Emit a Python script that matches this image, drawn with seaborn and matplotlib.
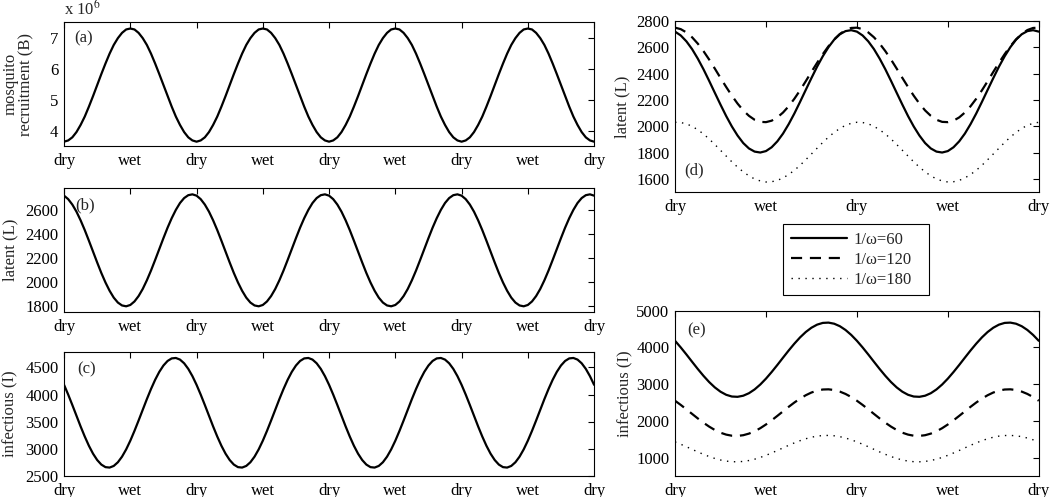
import numpy as np
import matplotlib
matplotlib.use('Agg')
import matplotlib.pyplot as plt
import seaborn as sns

# values, one sample every 1/16 of a dry-wet interval
season_labels_long = ['dry', 'wet', 'dry', 'wet', 'dry', 'wet', 'dry', 'wet', 'dry']
season_labels_short = ['dry', 'wet', 'dry', 'wet', 'dry']

recruit_B = [  # x 10^6
    3.64, 3.68, 3.78, 3.95, 4.18, 4.45, 4.77, 5.11, 5.47, 5.82, 6.16, 6.48, 6.76, 6.98, 7.15, 7.26,
    7.29, 7.26, 7.15, 6.98, 6.76, 6.48, 6.16, 5.82, 5.47, 5.11, 4.77, 4.45, 4.18, 3.95, 3.78, 3.68,
    3.64, 3.68, 3.78, 3.95, 4.18, 4.45, 4.77, 5.11, 5.47, 5.82, 6.16, 6.48, 6.76, 6.98, 7.15, 7.26,
    7.29, 7.26, 7.15, 6.98, 6.76, 6.48, 6.16, 5.82, 5.47, 5.11, 4.77, 4.45, 4.18, 3.95, 3.78, 3.68,
    3.64, 3.68, 3.78, 3.95, 4.18, 4.45, 4.77, 5.11, 5.47, 5.82, 6.16, 6.48, 6.76, 6.98, 7.15, 7.26,
    7.29, 7.26, 7.15, 6.98, 6.76, 6.48, 6.16, 5.82, 5.47, 5.11, 4.77, 4.45, 4.18, 3.95, 3.78, 3.68,
    3.64, 3.68, 3.78, 3.95, 4.18, 4.45, 4.77, 5.11, 5.47, 5.82, 6.16, 6.48, 6.76, 6.98, 7.15, 7.26,
    7.29, 7.26, 7.15, 6.98, 6.76, 6.48, 6.16, 5.82, 5.47, 5.11, 4.77, 4.45, 4.18, 3.95, 3.78, 3.68,
    3.64]

latent_L = [
    2719, 2690, 2645, 2586, 2514, 2433, 2345, 2254, 2164, 2077, 1998, 1929, 1872, 1831, 1807, 1800,
    1811, 1840, 1885, 1944, 2016, 2097, 2185, 2276, 2366, 2453, 2532, 2601, 2658, 2699, 2723, 2730,
    2719, 2690, 2645, 2586, 2514, 2433, 2345, 2254, 2164, 2077, 1998, 1929, 1872, 1831, 1807, 1800,
    1811, 1840, 1885, 1944, 2016, 2097, 2185, 2276, 2366, 2453, 2532, 2601, 2658, 2699, 2723, 2730,
    2719, 2690, 2645, 2586, 2514, 2433, 2345, 2254, 2164, 2077, 1998, 1929, 1872, 1831, 1807, 1800,
    1811, 1840, 1885, 1944, 2016, 2097, 2185, 2276, 2366, 2453, 2532, 2601, 2658, 2699, 2723, 2730,
    2719, 2690, 2645, 2586, 2514, 2433, 2345, 2254, 2164, 2077, 1998, 1929, 1872, 1831, 1807, 1800,
    1811, 1840, 1885, 1944, 2016, 2097, 2185, 2276, 2366, 2453, 2532, 2601, 2658, 2699, 2723, 2730,
    2719]

infectious_I = [
    4180, 4000, 3808, 3609, 3413, 3227, 3057, 2911, 2794, 2710, 2663, 2655, 2685, 2753, 2856, 2990,
    3150, 3330, 3522, 3721, 3917, 4103, 4273, 4419, 4536, 4620, 4667, 4675, 4645, 4577, 4474, 4340,
    4180, 4000, 3808, 3609, 3413, 3227, 3057, 2911, 2794, 2710, 2663, 2655, 2685, 2753, 2856, 2990,
    3150, 3330, 3522, 3721, 3917, 4103, 4273, 4419, 4536, 4620, 4667, 4675, 4645, 4577, 4474, 4340,
    4180, 4000, 3808, 3609, 3413, 3227, 3057, 2911, 2794, 2710, 2663, 2655, 2685, 2753, 2856, 2990,
    3150, 3330, 3522, 3721, 3917, 4103, 4273, 4419, 4536, 4620, 4667, 4675, 4645, 4577, 4474, 4340,
    4180, 4000, 3808, 3609, 3413, 3227, 3057, 2911, 2794, 2710, 2663, 2655, 2685, 2753, 2856, 2990,
    3150, 3330, 3522, 3721, 3917, 4103, 4273, 4419, 4536, 4620, 4667, 4675, 4645, 4577, 4474, 4340,
    4180]

# right column: two years, three waning rates (1/omega = 60 is the curve shown on the left)
latent_120 = [
    2749, 2738, 2713, 2676, 2628, 2571, 2507, 2438, 2367, 2298, 2232, 2172, 2120, 2079, 2049, 2033,
    2031, 2042, 2067, 2104, 2152, 2209, 2273, 2342, 2413, 2482, 2548, 2608, 2660, 2701, 2731, 2747,
    2749, 2738, 2713, 2676, 2628, 2571, 2507, 2438, 2367, 2298, 2232, 2172, 2120, 2079, 2049, 2033,
    2031, 2042, 2067, 2104, 2152, 2209, 2273, 2342, 2413, 2482, 2548, 2608, 2660, 2701, 2731, 2747,
    2749]
latent_180 = [
    2030, 2028, 2018, 1999, 1973, 1941, 1903, 1861, 1817, 1773, 1729, 1689, 1653, 1623, 1599, 1584,
    1576, 1578, 1588, 1607, 1633, 1665, 1703, 1745, 1789, 1833, 1877, 1917, 1953, 1983, 2007, 2022,
    2030, 2028, 2018, 1999, 1973, 1941, 1903, 1861, 1817, 1773, 1729, 1689, 1653, 1623, 1599, 1584,
    1576, 1578, 1588, 1607, 1633, 1665, 1703, 1745, 1789, 1833, 1877, 1917, 1953, 1983, 2007, 2022,
    2030]
infectious_120 = [
    2548, 2435, 2314, 2190, 2067, 1950, 1844, 1752, 1678, 1626, 1596, 1591, 1610, 1653, 1717, 1801,
    1902, 2015, 2136, 2260, 2383, 2500, 2606, 2698, 2772, 2824, 2854, 2859, 2840, 2797, 2733, 2649,
    2548, 2435, 2314, 2190, 2067, 1950, 1844, 1752, 1678, 1626, 1596, 1591, 1610, 1653, 1717, 1801,
    1902, 2015, 2136, 2260, 2383, 2500, 2606, 2698, 2772, 2824, 2854, 2859, 2840, 2797, 2733, 2649,
    2548]
infectious_180 = [
    1428, 1364, 1296, 1225, 1155, 1089, 1029, 977, 935, 905, 889, 886, 896, 921, 957, 1005,
    1062, 1126, 1194, 1265, 1335, 1401, 1461, 1513, 1555, 1585, 1601, 1604, 1594, 1570, 1533, 1485,
    1428, 1364, 1296, 1225, 1155, 1089, 1029, 977, 935, 905, 889, 886, 896, 921, 957, 1005,
    1062, 1126, 1194, 1265, 1335, 1401, 1461, 1513, 1555, 1585, 1601, 1604, 1594, 1570, 1533, 1485,
    1428]
latent_60 = latent_L[:65]
infectious_60 = infectious_I[:65]

legend_labels = ['1/\u03c9=60', '1/\u03c9=120', '1/\u03c9=180']

pos_long = np.linspace(0, 8, len(recruit_B))
pos_short = np.linspace(0, 4, len(latent_120))

sns.set_style('white')
plt.rcParams['font.family'] = ['Liberation Serif', 'DejaVu Serif']
plt.rcParams['mathtext.fontset'] = 'stix'
plt.rcParams['font.size'] = 12

fig = plt.figure(figsize=(10.5, 4.97), dpi=100)
ax_a = fig.add_axes([0.061, 0.7062, 0.5048, 0.2495])
ax_b = fig.add_axes([0.061, 0.3716, 0.5048, 0.2507])
ax_c = fig.add_axes([0.061, 0.0423, 0.5048, 0.2489])
ax_d = fig.add_axes([0.6429, 0.6137, 0.3464, 0.3441])
ax_e = fig.add_axes([0.6429, 0.0423, 0.3464, 0.3326])

solid = dict(color='black', linewidth=1.6)
dashed = dict(color='black', linewidth=1.6, linestyle=(0, (5, 3.5)))
dotted = dict(color='black', linewidth=1.0, linestyle=(0, (1, 4)))

sns.lineplot(x=pos_long, y=recruit_B, ax=ax_a, **solid)
sns.lineplot(x=pos_long, y=latent_L, ax=ax_b, **solid)
sns.lineplot(x=pos_long, y=infectious_I, ax=ax_c, **solid)

sns.lineplot(x=pos_short, y=latent_60, ax=ax_d, label=legend_labels[0], **solid)
sns.lineplot(x=pos_short, y=latent_120, ax=ax_d, label=legend_labels[1], **dashed)
sns.lineplot(x=pos_short, y=latent_180, ax=ax_d, label=legend_labels[2], **dotted)

sns.lineplot(x=pos_short, y=infectious_60, ax=ax_e, **solid)
sns.lineplot(x=pos_short, y=infectious_120, ax=ax_e, **dashed)
sns.lineplot(x=pos_short, y=infectious_180, ax=ax_e, **dotted)

# axis setup, matlab-like boxed axes with inward ticks
setup = [
    (ax_a, 8, season_labels_long, (3.5, 7.5), [4, 5, 6, 7], 'mosquito\nrecruitment (B)', -0.056),
    (ax_b, 8, season_labels_long, (1750, 2785), [1800, 2000, 2200, 2400, 2600], 'latent (L)', -0.087),
    (ax_c, 8, season_labels_long, (2500, 4780), [2500, 3000, 3500, 4000, 4500], 'infectious (I)', -0.087),
    (ax_d, 4, season_labels_short, (1500, 2800), [1600, 1800, 2000, 2200, 2400, 2600, 2800], 'latent (L)', -0.124),
    (ax_e, 4, season_labels_short, (500, 5000), [1000, 2000, 3000, 4000, 5000], 'infectious (I)', -0.115),
]
for ax, xmax, xlabs, ylim, yticks, ylab, lab_x in setup:
    ax.set_xlim(0, xmax)
    ax.set_xticks(range(xmax + 1))
    ax.set_xticklabels(xlabs)
    ax.set_ylim(*ylim)
    ax.set_yticks(yticks)
    ax.set_xlabel('')
    ax.set_ylabel(ylab, fontsize=12, linespacing=1.0)
    ax.yaxis.set_label_coords(lab_x, 0.5)
    ax.tick_params(direction='in', top=True, right=True, length=4, width=0.8,
                   labelsize=12, colors='black')
    ax.tick_params(axis='x', pad=5)
    ax.tick_params(axis='y', pad=4)
    for sp in ax.spines.values():
        sp.set_visible(True)
        sp.set_color('black')
        sp.set_linewidth(0.8)
    if ax.get_legend() is not None:
        ax.get_legend().remove()

ax_a.text(0.0, 1.03, r'x 10$^{6}$', transform=ax_a.transAxes, ha='left', va='bottom', fontsize=12)

ax_a.text(0.02, 0.93, '(a)', transform=ax_a.transAxes, ha='left', va='top', fontsize=12)
ax_b.text(0.022, 0.92, '(b)', transform=ax_b.transAxes, ha='left', va='top', fontsize=12)
ax_c.text(0.024, 0.93, '(c)', transform=ax_c.transAxes, ha='left', va='top', fontsize=12)
ax_d.text(0.025, 0.08, '(d)', transform=ax_d.transAxes, ha='left', va='bottom', fontsize=12)
ax_e.text(0.033, 0.93, '(e)', transform=ax_e.transAxes, ha='left', va='top', fontsize=12)

# legend box sits between (d) and (e), stretched to the reference width
handles, labels = ax_d.get_legend_handles_labels()
leg = fig.legend(handles, labels, loc='upper left',
                 bbox_to_anchor=(783 / 1050, 1 - 224 / 497, 146 / 1050, 0.0), mode='expand',
                 borderaxespad=0, frameon=True, fancybox=False, edgecolor='black', framealpha=1,
                 handlelength=3.4, fontsize=12, labelspacing=0.25, borderpad=0.45,
                 handletextpad=0.35)
leg.get_frame().set_linewidth(0.8)

fig.savefig('out.png', dpi=100)
